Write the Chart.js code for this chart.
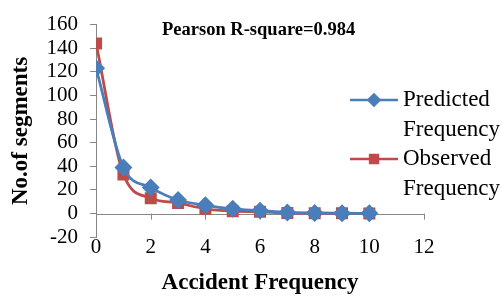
<!DOCTYPE html>
<html><head><meta charset="utf-8">
<script src="https://cdn.jsdelivr.net/npm/chart.js@4/dist/chart.umd.min.js"></script>
<style>html,body{margin:0;padding:0;background:#fff}canvas{display:block}</style>
</head><body>
<canvas id="c" width="501" height="297"></canvas>
<script>
const accidentFrequency = [0,1,2,3,4,5,6,7,8,9,10];
const predictedFrequency = [123,39,22,11.5,7,4,2.5,1,0.5,0.3,0.2];
const observedFrequency = [144,33,13,9,4,2,1.5,0.5,0.3,0.2,0.1];
const seriesNames = [["Predicted","Frequency"],["Observed","Frequency"]];
const xTicks = [0,2,4,6,8,10,12];
const yTicks = [-20,0,20,40,60,80,100,120,140,160];
const annotationText = "Pearson R-square=0.984";
const xTitle = "Accident Frequency";
const yTitle = "No.of segments";

const BLUE = '#4A7EBB', RED = '#BE4B48', AXIS = '#868686';
const serif = "'Liberation Serif','Times New Roman',serif";

const toPts = arr => arr.map((v,i)=>({x:accidentFrequency[i], y:v}));

const extras = {
  id:'extras',
  beforeDatasetsDraw(chart){
    const {ctx, scales:{x,y}} = chart;
    const y0 = y.getPixelForValue(0);
    ctx.save();
    ctx.strokeStyle = AXIS; ctx.lineWidth = 1;
    ctx.beginPath();
    ctx.moveTo(x.getPixelForValue(0), Math.round(y0)+0.5);
    ctx.lineTo(x.getPixelForValue(12), Math.round(y0)+0.5);
    xTicks.forEach(t=>{
      const px = Math.round(x.getPixelForValue(t))+0.5;
      ctx.moveTo(px, y0); ctx.lineTo(px, y0+6);
    });
    ctx.stroke();
    ctx.restore();
  },
  afterDraw(chart){
    const {ctx} = chart;
    ctx.save();
    ctx.fillStyle = '#000';
    ctx.font = "bold 18.5px " + serif;
    ctx.textBaseline = 'middle'; ctx.textAlign = 'left';
    ctx.fillText(annotationText, 162, 30);
    const items = [{c:BLUE, s:'rectRot', r:5.5, lines:seriesNames[0], y:100},
                   {c:RED, s:'rect', r:5.5, lines:seriesNames[1], y:159}];
    ctx.font = "23px " + serif;
    items.forEach(it=>{
      ctx.strokeStyle = it.c; ctx.lineWidth = 2.5;
      ctx.beginPath(); ctx.moveTo(350, it.y); ctx.lineTo(398, it.y); ctx.stroke();
      ctx.fillStyle = it.c;
      Chart.helpers.drawPoint(ctx, {pointStyle:it.s, radius:it.r, borderWidth:1}, 374, it.y);
      ctx.fillStyle = '#000';
      it.lines.forEach((l,k)=>ctx.fillText(l, 403, it.y + k*29.5));
    });
    ctx.restore();
  }
};

new Chart(document.getElementById('c'), {
  type:'line',
  data:{datasets:[
    {label:seriesNames[0].join(' '), data:toPts(predictedFrequency), borderColor:BLUE, backgroundColor:BLUE,
     borderWidth:2.8, pointStyle:'rectRot', pointRadius:7, tension:0.4, cubicInterpolationMode:'monotone'},
    {label:seriesNames[1].join(' '), data:toPts(observedFrequency), borderColor:RED, backgroundColor:RED,
     borderWidth:2.8, pointStyle:'rect', pointRadius:6.5, tension:0.4, cubicInterpolationMode:'monotone'}
  ]},
  options:{
    responsive:false, animation:false, devicePixelRatio:1,
    layout:{padding:{left:7, right:77, top:10, bottom:0}},
    plugins:{legend:{display:false}, tooltip:{enabled:false}},
    scales:{
      x:{type:'linear', min:0, max:12,
         afterBuildTicks(s){ s.ticks = xTicks.map(v=>({value:v})); },
         grid:{display:false}, border:{display:false},
         ticks:{font:{family:serif, size:21}, color:'#000', padding:-10, maxRotation:0, autoSkip:false},
         title:{display:true, text:xTitle, font:{family:serif, size:23, weight:'bold'}, color:'#000', padding:{top:19, bottom:0}}},
      y:{min:-20, max:160,
         afterBuildTicks(s){ s.ticks = yTicks.map(v=>({value:v})); },
         grid:{drawOnChartArea:false, drawTicks:true, tickLength:6, color:AXIS},
         border:{display:true, color:AXIS},
         ticks:{font:{family:serif, size:21}, color:'#000', padding:12, autoSkip:false},
         title:{display:true, text:yTitle, font:{family:serif, size:23, weight:'bold'}, color:'#000', padding:{top:0, bottom:0}}}
    }
  },
  plugins:[extras]
});
</script>
</body></html>
